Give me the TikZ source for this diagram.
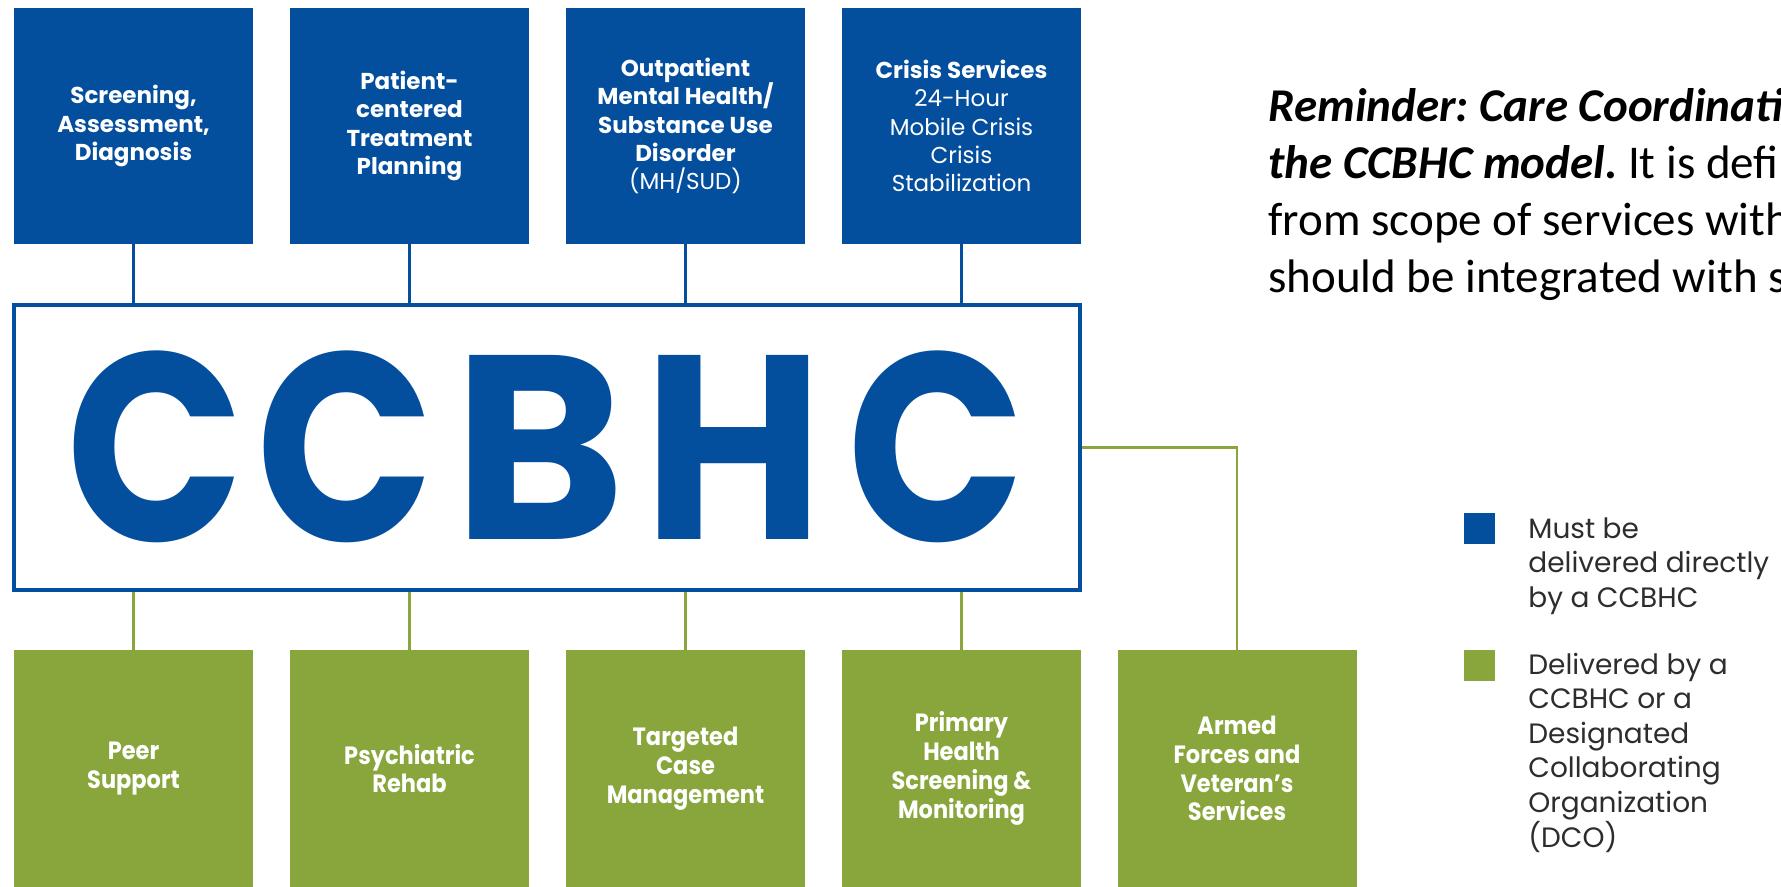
\documentclass[tikz,border=0pt]{standalone}
\usepackage{graphicx}
\usepackage{fontspec}
\setmainfont{Carlito}
\newfontfamily\popfont{Poppins}
\newfontfamily\popnarrow{Poppins}[FakeStretch=0.9]
\definecolor{ccblue}{RGB}{4,78,158}
\definecolor{ccgreen}{RGB}{136,166,59}
\definecolor{legendgray}{RGB}{45,45,45}
\frenchspacing
\begin{document}
\begin{tikzpicture}[x=0.5pt,y=-0.5pt,
  card/.style={rectangle, inner sep=0pt, minimum width=119.5pt, align=center, text=white},
  bluecard/.style={card, fill=ccblue, minimum height=118pt, font=\popfont\fontsize{11.5}{14.2}\selectfont},
  greencard/.style={card, fill=ccgreen, minimum height=118.5pt, font=\popnarrow\bfseries\fontsize{12.5}{14.4}\selectfont},
  bluelink/.style={draw=ccblue, line width=1.3pt},
  greenlink/.style={draw=ccgreen, line width=1.3pt},
  letter/.style={inner sep=0pt, text=ccblue, font=\popfont\bfseries},
  swatch/.style={rectangle, inner sep=0pt, minimum size=15.5pt},
  legendtext/.style={anchor=base west, inner sep=0pt, text=legendgray, font=\popfont\fontsize{14}{17.3}\selectfont},
  remark/.style={anchor=base west, inner sep=0pt, text=black, font=\fontsize{23.5}{28}\selectfont}
]
\useasboundingbox (0,0) rectangle (1781,887);
\begin{scope}
\clip (0,0) rectangle (1781,887);

% services delivered directly
\node[bluecard] (t1) at (133.5,126) {\textbf{Screening,}\\\textbf{Assessment,}\\\textbf{Diagnosis}};
\node[bluecard] (t2) at (409.5,126) {\textbf{Patient-}\\\textbf{centered}\\\textbf{Treatment}\\\textbf{Planning}};
\node[bluecard] (t3) at (685.5,126) {\textbf{Outpatient}\\\textbf{Mental Health/}\\\textbf{Substance Use}\\\textbf{Disorder}\\(MH/SUD)};
\node[bluecard] (t4) at (961.5,126) {\textbf{Crisis Services}\\24-Hour\\Mobile Crisis\\Crisis\\Stabilization};

% central hub
\node[draw=ccblue, line width=2pt, minimum width=533pt, minimum height=142.5pt, inner sep=0pt] (hub) at (547,447.5) {};
\node[letter] (c1) at (156,447) {\resizebox*{89pt}{96pt}{C}};
\node[letter] (c2) at (346,447) {\resizebox*{89pt}{96pt}{C}};
\node[letter] (b1) at (540,447) {\resizebox*{86pt}{92pt}{B}};
\node[letter] (h1) at (734,447) {\resizebox*{90pt}{92pt}{H}};
\node[letter] (c3) at (937,447) {\resizebox*{89pt}{96pt}{C}};

% services delivered by a CCBHC or a DCO
\node[greencard] (g1) at (133.5,768.5) {Peer\\Support};
\node[greencard] (g2) at (409.5,768.5) {Psychiatric\\Rehab};
\node[greencard] (g3) at (685.5,768.5) {Targeted\\Case\\Management};
\node[greencard] (g4) at (961.5,768.5) {Primary\\Health\\Screening \&\\Monitoring};
\node[greencard] (g5) at (1237,768.5) {Armed\\Forces and\\Veteran’s\\Services};

% connectors
\foreach \n in {t1,t2,t3,t4}
  \draw[bluelink] (\n.south) -- (\n.south |- hub.north);
\foreach \n in {g1,g2,g3,g4}
  \draw[greenlink] (\n.north) -- (\n.north |- hub.south);
\draw[greenlink] (hub.east) -| (g5.north);

% reminder note
\node[remark] (r1) at (1268,121.5) {\bfseries\itshape Reminder: Care Coordination};
\node[remark] (r2) at (1268,178.7) {{\bfseries\itshape the CCBHC model.} It is defined};
\node[remark] (r3) at (1268,235.9) {from scope of services with};
\node[remark] (r4) at (1268,293) {should be integrated with s};

% legend
\node[swatch, fill=ccblue] (k1) at (1479,528.5) {};
\node[swatch, fill=ccgreen] (k2) at (1479,665.5) {};
\node[legendtext] (l1) at (1528,538) {\vtop{\hbox{Must be}\hbox{delivered directly}\hbox{by a CCBHC}}};
\node[legendtext] (l2) at (1528,674) {\vtop{\hbox{Delivered by a}\hbox{CCBHC or a}\hbox{Designated}\hbox{Collaborating}\hbox{Organization}\hbox{(DCO)}}};
\end{scope}
\end{tikzpicture}
\end{document}
